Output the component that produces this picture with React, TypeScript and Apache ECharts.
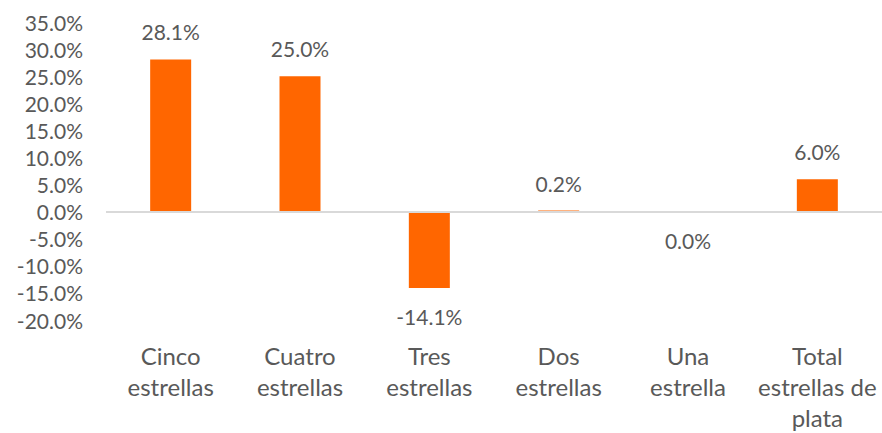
import React, { useEffect, useRef } from "react";
import * as echarts from "echarts";

const categories = [
  "Cinco\nestrellas",
  "Cuatro\nestrellas",
  "Tres\nestrellas",
  "Dos\nestrellas",
  "Una\nestrella",
  "Total\nestrellas de\nplata",
];
const values = [28.1, 25.0, -14.1, 0.2, -0.02, 6.0];
const yMin = -20;
const yMax = 35;
const yStep = 5;

const TEXT = "#595959";
const FONT = "Lato";

function fmt(v: number): string {
  const s = v.toFixed(1);
  return (s === "-0.0" ? "0.0" : s) + "%";
}

export default function App() {
  const ref = useRef<HTMLDivElement>(null);
  useEffect(() => {
    if (!ref.current) return;
    const chart = echarts.init(ref.current, undefined, { renderer: "svg" });
    chart.setOption({
      animation: false,
      grid: { left: 106, right: -4, top: 22, bottom: 112, containLabel: false },
      xAxis: {
        type: "category",
        data: categories,
        axisLine: { show: false, onZero: false },
        axisTick: { show: false },
        axisLabel: {
          color: TEXT,
          fontFamily: FONT,
          fontSize: 24,
          lineHeight: 31,
          margin: 20,
          verticalAlign: "top",
          interval: 0,
        },
        splitLine: { show: false },
      },
      yAxis: {
        type: "value",
        min: yMin,
        max: yMax,
        interval: yStep,
        axisLine: { show: false },
        axisTick: { show: false },
        splitLine: { show: false },
        axisLabel: {
          color: TEXT,
          fontFamily: FONT,
          fontSize: 21,
          margin: 23,
          formatter: (v: number) => v.toFixed(1) + "%",
        },
      },
      series: [
        {
          type: "bar",
          barWidth: 41,
          itemStyle: { color: "#FF6600" },
          data: values.map((v) => ({
            value: v,
            label: {
              show: true,
              position: v < 0 ? "bottom" : "top",
              distance: v < 0 ? 18 : 17,
              color: TEXT,
              fontFamily: FONT,
              fontSize: 21,
              formatter: () => fmt(v),
            },
          })),
          markLine: {
            silent: true,
            symbol: ["none", "none"],
            label: { show: false },
            lineStyle: { color: "#D9D9D9", width: 2, type: "solid" },
            data: [{ yAxis: 0 }],
          },
        },
      ],
    });
    return () => chart.dispose();
  }, []);
  return (
    <div
      ref={ref}
      style={{ position: "absolute", left: 0, top: 0, width: 882, height: 433 }}
    />
  );
}
